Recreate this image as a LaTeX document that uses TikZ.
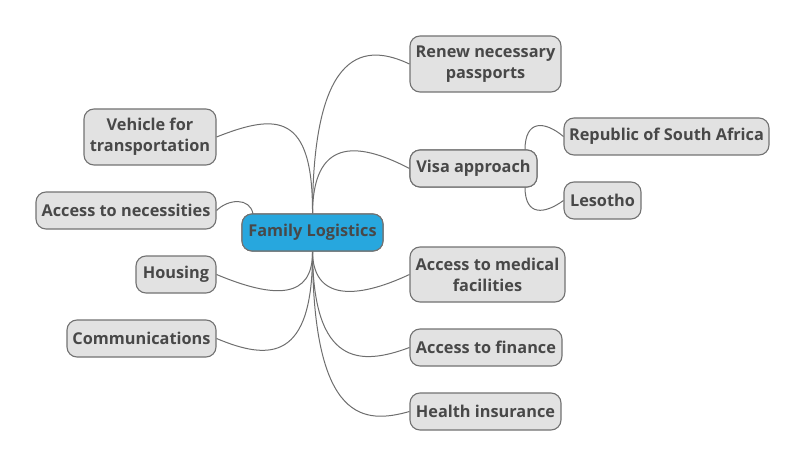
\documentclass[tikz,border=0pt]{standalone}
\usepackage{fontspec}
\setmainfont{Open Sans}
\definecolor{txt}{HTML}{484848}
\definecolor{boxfill}{HTML}{E2E2E2}
\definecolor{boxline}{HTML}{727272}
\definecolor{rootfill}{HTML}{27A7DE}
\definecolor{edgecol}{HTML}{6E6E6E}
\begin{document}
\begin{tikzpicture}[x=1pt,y=-1pt,
  box/.style={draw=boxline,fill=boxfill,line width=1.1pt,rounded corners=10pt,
    inner sep=0pt,align=center,text=txt,font=\fontsize{16.3}{21}\selectfont\bfseries},
  rootbox/.style={box,fill=rootfill},
  edge/.style={draw=edgecol,line width=1pt}]
\useasboundingbox (0,0) rectangle (806,468);
\node[rootbox,minimum width=141pt,minimum height=37pt] (root) at (312.5,232.5) {Family Logistics};
\node[box,minimum width=151pt,minimum height=56pt] (renew) at (485.5,64) {Renew necessary\\passports};
\node[box,minimum width=127pt,minimum height=37pt] (visa) at (473.5,168.5) {Visa approach};
\node[box,minimum width=205pt,minimum height=37pt] (rsa) at (666.5,136.5) {Republic of South Africa};
\node[box,minimum width=77pt,minimum height=37pt] (lesotho) at (602.5,200.5) {Lesotho};
\node[box,minimum width=155pt,minimum height=55pt] (medical) at (487.5,274.5) {Access to medical\\facilities};
\node[box,minimum width=152pt,minimum height=37pt] (finance) at (486,347.5) {Access to finance};
\node[box,minimum width=151pt,minimum height=37pt] (health) at (485.5,411.5) {Health insurance};
\node[box,minimum width=132pt,minimum height=56pt] (vehicle) at (150,137) {Vehicle for\\transportation};
\node[box,minimum width=180pt,minimum height=37pt] (necess) at (126,210.5) {Access to necessities};
\node[box,minimum width=80pt,minimum height=37pt] (housing) at (176,274.5) {Housing};
\node[box,minimum width=149pt,minimum height=37pt] (comms) at (141.5,338.5) {Communications};
\coordinate (rootnl) at (253,214);
\coordinate (visat) at (525,150);
\coordinate (visab) at (525,187);
% edges
\draw[edge] (root.north) .. controls (313,44) and (367,44) .. (renew.west);
\draw[edge] (root.north) .. controls (313,140) and (355,140) .. (visa.west);
\draw[edge] (root.south) .. controls (313,300) and (355,300) .. (medical.west);
\draw[edge] (root.south) .. controls (313,366) and (360,366) .. (finance.west);
\draw[edge] (root.south) .. controls (313,424) and (365,424) .. (health.west);
\draw[edge] (root.north) .. controls (313,113) and (277,113) .. (vehicle.east);
\draw[edge] (root.south) .. controls (313,299) and (275,299) .. (housing.east);
\draw[edge] (root.south) .. controls (313,361) and (270,361) .. (comms.east);
\draw[edge] (necess.east) .. controls (228,199) and (250,197) .. (rootnl);
\draw[edge] (visat) .. controls (525,119) and (545,121) .. (rsa.west);
\draw[edge] (visab) .. controls (525,217) and (545,214) .. (lesotho.west);
% redraw nodes on top
\node[rootbox,minimum width=141pt,minimum height=37pt] at (312.5,232.5) {Family Logistics};
\node[box,minimum width=127pt,minimum height=37pt] at (473.5,168.5) {Visa approach};
\end{tikzpicture}
\end{document}
